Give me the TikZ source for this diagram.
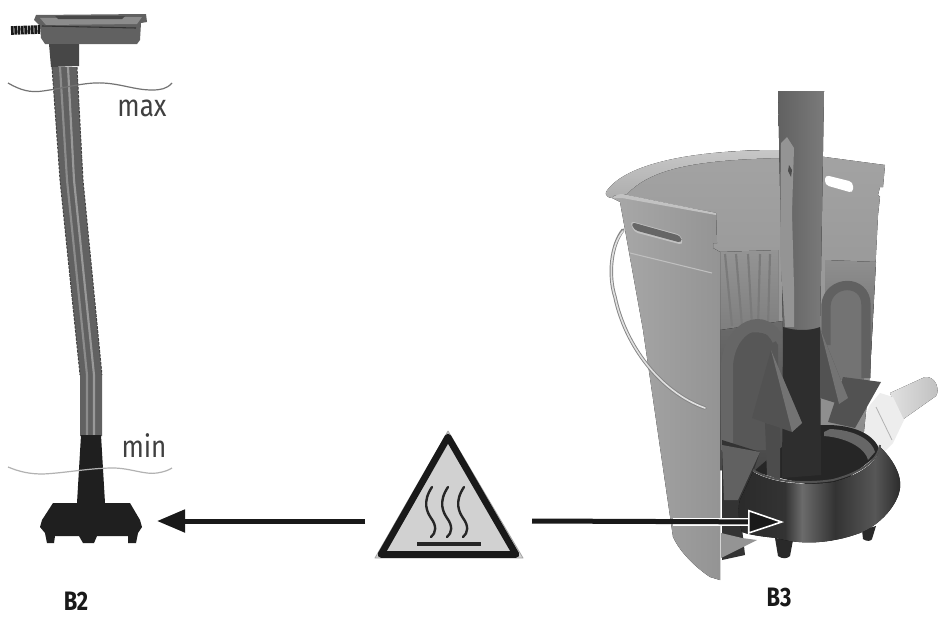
\documentclass[tikz,border=0pt]{standalone}
\usepackage{fontspec}
\setmainfont{Fira Sans}
\usepackage{tikz}
\usetikzlibrary{arrows.meta}

\begin{document}
\begin{tikzpicture}[
  x=.75pt,y=-.75pt,line join=round,
  lvl/.style={font=\fontsize{23}{23}\selectfont,text=black!75,xscale=.85,inner sep=0pt},
  tag/.style={font=\fontsize{20}{20}\selectfont\bfseries,text=black!90,xscale=.82,inner sep=0pt},
  wave/.style={line width=.9pt},
  arr/.style={line width=3.75pt,black!90,-{Triangle[length=21pt,width=16.5pt]}},
  whitearr/.style={line width=3.75pt,black!90,-{Triangle[length=27pt,width=18pt,line width=1.2pt,color=white,fill=black!90]}},
  fin/.style={fill=black!68},
  finedge/.style={fill=black!55},
  loopbar/.style={line width=7pt,black!62,line cap=butt}
]
\useasboundingbox (0,0) rectangle (941,621);
\fill[white] (0,0) rectangle (941,621);

\coordinate (warnleft) at (365,521);
\coordinate (warnright) at (532,521);
\coordinate (probetip) at (157,521);
\coordinate (bowltip) at (784,522);
\coordinate (halostart) at (673,522);
\coordinate (halostop) at (752,522);

\fill[black!62] (36,15) -- (146,14) -- (147,22) -- (141,23) -- (140,40) -- (137,44) -- (45,44) -- (41,38) -- (40,26) -- (34,20) -- cycle;
\fill[black!45] (40,18) -- (142,17) -- (137,24) -- (46,25) -- cycle;
\fill[black!72] (55,16) -- (125,16) -- (122,19) -- (58,19) -- cycle;
\draw[black!80,line width=.8pt] (42,26) -- (136,28);
\draw[black!90,line width=6.5pt,dash pattern=on 2pt off .5pt] (11,30.5) -- (40,29.5);
\fill[black!72] (49,44) -- (79,44) -- (79,66) -- (51,67) -- cycle;
\fill[black!62] (52,67) -- (77,67) -- (83,180) -- (102,375) -- (102,436) -- (80,436) -- (80,375) -- (60,180) -- cycle;
\draw[black!45,line width=1.6pt] (60,67) -- (67,180) -- (87,375) -- (87,436);
\draw[black!40,line width=1.6pt] (68,67) -- (74,180) -- (94,375) -- (94,436);
\draw[black!75,line width=.7pt,dash pattern=on 2pt off 1pt] (52,67) -- (60,180) -- (80,375);
\draw[black!75,line width=.7pt,dash pattern=on 2pt off 1pt] (77,67) -- (83,180) -- (102,375);
\fill[black!88] (81,435) -- (101,435) -- (105,503) -- (77,503) -- cycle;
\fill[black!88] (53,503) -- (130,503) -- (140,520) -- (142,527) -- (138,533) -- (136,543) -- (128,543) -- (128,536)
  -- (97,536) -- (94,543) -- (83,543) -- (79,536) -- (55,536) -- (54,543) -- (47,543) -- (45,533) -- (40,527) -- (42,520) -- cycle;

\draw[wave,black!55] (8,83) .. controls (20,90) and (30,93) .. (43,91) .. controls (65,88) and (85,82) .. (103,83)
  .. controls (122,84) and (135,90) .. (152,90) .. controls (160,90) and (167,89) .. (172,83);
\draw[wave,black!30] (8,467) .. controls (20,472) and (30,474) .. (43,474) .. controls (65,473) and (90,468) .. (113,468)
  .. controls (130,468) and (145,475) .. (157,473) .. controls (164,472) and (169,470) .. (172,468);
\node[lvl] (maxlabel) at (142,108) {max};
\node[lvl] (minlabel) at (144,446) {min};

\fill[black!18,draw=black!35,line width=.6pt] (448,431) -- (375,558) -- (523,558) -- cycle;
\draw[line width=5pt,black!90] (448,437) -- (381,554.5) -- (516,554.5) -- cycle;
\foreach \wx in {431,447,463} {
  \draw[black!85,line width=1.8pt,line cap=round] (\wx+1,487) .. controls (\wx-9,502) and (\wx-4,512) .. (\wx,518) .. controls (\wx+6,526) and (\wx+5,533) .. (\wx,537);
}
\draw[black!85,line width=3pt] (417,544) -- (481,544);

\draw[arr] (warnleft) -- (probetip);

\fill[left color=black!12,right color=black!25] (890,393) -- (925,377) .. controls (936,376) and (940,390) .. (936,396) -- (902,420) -- cycle;
\fill[black!7] (880,393) -- (893,397) -- (904,420) -- (893,443) -- (883,453) -- (860,427) -- (870,405) -- cycle;
\draw[black!30,line width=.6pt] (876,407) -- (892,440);

\fill[top color=black!36,bottom color=black!46] (612,192) .. controls (640,165) and (690,150) .. (780,150) -- (825,157) -- (885,165) -- (883,187) -- (880,187) -- (878,195) -- (880,197) -- (878,215) -- (870,373) -- (860,470) -- (700,470) -- (700,210) -- cycle;
\fill[top color=black!22,bottom color=black!32] (606,192) .. controls (622,167) and (680,150) .. (780,150) -- (780,158) .. controls (690,160) and (650,170) .. (627,194) -- (612,198) .. controls (608,198) and (605,195) .. (606,192) -- cycle;
\fill[top color=black!42,bottom color=black!52] (720,252) -- (778,250) -- (778,332) -- (720,345) -- cycle;
\foreach \sx/\ex in {725/732,736/742,748/752,760/758,770/768} {
  \draw[black!52,line width=1.6pt] (\sx,254) -- (\ex,326);
}
\fill[top color=black!44,bottom color=black!60] (825,260) -- (876,262) -- (870,373) -- (825,373) -- cycle;
\fill[top color=black!58,bottom color=black!72] (720,330) -- (790,320) -- (790,470) -- (720,470) -- cycle;
\fill[black!55] (827,300) .. controls (830,287) and (860,285) .. (864,300) -- (864,380) -- (827,380) -- cycle;
\fill[black!66] (733,450) -- (733,345) .. controls (740,328) and (770,328) .. (778,345) -- (778,450) -- cycle;

\fill[white,rounded corners=3pt] (825,175) -- (853,182) -- (853,193) -- (825,185) -- cycle;

\draw[loopbar] (826,345) -- (826,305) .. controls (828,280) and (866,278) .. (866,305) -- (866,378);
\draw[line width=9pt,black!60] (727,450) -- (727,365) .. controls (730,325) and (765,312) .. (778,340);

\fill[black!85] (753,472) -- (790,440) -- (820,425) -- (830,425) .. controls (860,426) and (878,438) .. (880,453) -- (833,490) -- cycle;
\fill[black!60] (824,432) -- (830,429) .. controls (855,430) and (872,440) .. (875,452) -- (868,460) .. controls (866,450) and (850,438) .. (824,436) -- cycle;

\fill[left color=black!62,right color=black!52] (778,91) -- (824,91) -- (820,330) -- (783,330) -- cycle;
\fill[black!42] (781,143) -- (787,137) -- (794,148) -- (792,213) -- (794,287) -- (794,327) -- (785,327) -- (780,253) -- cycle;
\fill[black!70] (789,165) -- (792,170) -- (791,177) -- (788,171) -- cycle;
\fill[black!82] (783,327) .. controls (795,331) and (810,331) .. (820,327) -- (821,475) -- (782,478) -- cycle;

\fill[black!70] (765,423) -- (780,427) -- (780,480) -- (767,475) -- cycle;
\fill[fin] (771,350) -- (802,423) -- (792,432) -- (752,418) -- cycle;
\fill[finedge] (771,350) -- (802,423) -- (792,432) -- cycle;
\fill[fin] (843,377) -- (881,382) -- (855,428) -- (828,422) -- cycle;
\fill[fin] (820,328) -- (848,398) -- (839,404) -- (820,398) -- cycle;
\fill[finedge] (820,328) -- (848,398) -- (839,404) -- cycle;

\fill[black!80] (722,440) -- (760,452) -- (740,510) -- (745,555) -- (722,560) -- cycle;
\fill[black!62] (722,445) -- (760,452) -- (738,500) -- (724,500) -- cycle;
\fill[black!42] (721,533) -- (742,538) -- (757,540) -- (721,558) -- cycle;

\fill[black!84] (775,538) -- (778,556) .. controls (782,559) and (787,559) .. (790,556) -- (793,540) -- cycle;
\fill[black!84] (862,530) -- (863,539) .. controls (867,542) and (871,541) .. (872,539) -- (876,526) -- cycle;
\begin{scope}
  \clip (753,472) .. controls (770,482) and (800,487) .. (833,482) .. controls (860,475) and (878,463) .. (880,447) .. controls (892,458) and (902,475) .. (900,488) .. controls (898,505) and (880,525) .. (860,533)
    .. controls (830,544) and (800,545) .. (777,538) .. controls (765,537) and (750,535) .. (742,532) .. controls (738,520) and (738,505) .. (740,500) -- cycle;
  \fill[left color=black!84,right color=black!80] (730,440) rectangle (785,550);
  \fill[left color=black!80,right color=black!58] (785,440) rectangle (802,550);
  \fill[left color=black!58,right color=black!80] (802,440) rectangle (835,550);
  \fill[left color=black!80,right color=black!66] (835,440) rectangle (875,550);
  \fill[left color=black!66,right color=black!86] (875,440) rectangle (905,550);
\end{scope}
\draw[black!68,line width=1.5pt] (753,470) .. controls (770,481) and (800,485) .. (833,480) .. controls (860,473) and (878,461) .. (880,445);

\fill[left color=black!34,right color=black!42] (620,202) -- (612,198) .. controls (614,194) and (618,196) .. (622,195) -- (716,213) -- (717,243) -- (713,243) -- (713,248) -- (720,252)
  -- (720,580) -- (710,577) .. controls (695,567) and (680,552) .. (673,537) -- (643,330) -- cycle;
\fill[black!24] (612,198) .. controls (614,196) and (618,194) .. (622,194) -- (716,213) -- (716,215) -- (622,198) -- cycle;
\fill[black!24,rounded corners=3pt] (630,221) -- (681,235) -- (683,245) -- (634,232) -- cycle;
\fill[black!60,rounded corners=3pt] (631,222) -- (681,236) -- (682,243) -- (634,230) -- cycle;
\draw[black!25,line width=.8pt] (630,253) -- (712,273);

\draw[black!48,line width=2.6pt,line cap=round] (623,230) .. controls (611,245) and (608,275) .. (615,297) .. controls (625,345) and (660,392) .. (705,408);
\draw[black!12,line width=1.2pt,line cap=round] (623,231) .. controls (611,245) and (608,275) .. (615,297) .. controls (625,345) and (660,392) .. (705,408);

\draw[white,line width=6.4pt] (halostart) -- (halostop);
\draw[whitearr] (warnright) -- (bowltip);

\node[tag] (probetag) at (76,601) {B2};
\node[tag] (buckettag) at (779,597) {B3};
\end{tikzpicture}
\end{document}
